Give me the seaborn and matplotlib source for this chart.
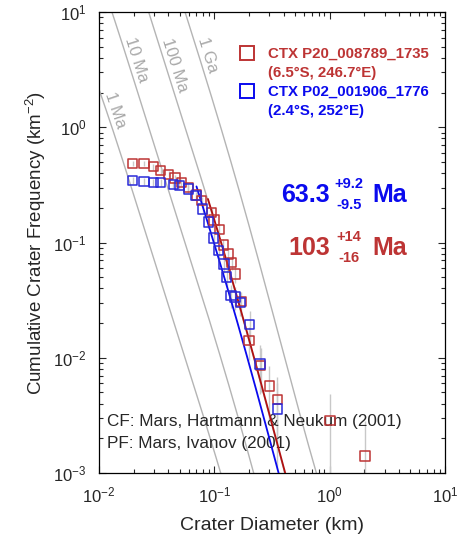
import numpy as np
import pandas as pd
import matplotlib
matplotlib.use("Agg")
import matplotlib.pyplot as plt
from matplotlib.lines import Line2D
import seaborn as sns

# crater counts: diameter (km), cumulative frequency (km^-2), error
red_name = "CTX P20_008789_1735"
red_coords = "(6.5°S, 246.7°E)"
red_diam = [0.0196, 0.0246, 0.0296, 0.0343, 0.0402, 0.0456, 0.0517, 0.0595, 0.0703, 0.0778,
            0.0949, 0.0994, 0.1105, 0.1197, 0.1322, 0.1416, 0.1513, 0.1705, 0.200, 0.2526,
            0.300, 0.352, 1.008, 2.016]
red_freq = [0.487, 0.487, 0.455, 0.421, 0.391, 0.363, 0.333, 0.299, 0.259, 0.231,
            0.182, 0.157, 0.130, 0.0953, 0.0796, 0.0670, 0.0535, 0.0307, 0.0141, 0.00855,
            0.0057, 0.00432, 0.00284, 0.00141]
red_err = [0.0262, 0.0262, 0.0253, 0.0244, 0.0235, 0.0226, 0.0217, 0.0205, 0.0191, 0.0181,
           0.0160, 0.0149, 0.0135, 0.0116, 0.0106, 0.0097, 0.0087, 0.0066, 0.0045, 0.0035,
           0.0028, 0.0025, 0.0020, 0.0014]

blue_name = "CTX P02_001906_1776"
blue_coords = "(2.4°S, 252°E)"
blue_diam = [0.0196, 0.0246, 0.0296, 0.0343, 0.0441, 0.0497, 0.0595, 0.0694, 0.0793, 0.0887,
             0.0988, 0.109, 0.1214, 0.128, 0.1396, 0.1513, 0.168, 0.2023, 0.249, 0.352]
blue_freq = [0.344, 0.337, 0.333, 0.333, 0.320, 0.311, 0.292, 0.255, 0.196, 0.150,
             0.109, 0.0854, 0.0652, 0.0500, 0.0348, 0.0336, 0.0302, 0.0194, 0.0088, 0.00358]
blue_err = [0.0248, 0.0245, 0.0244, 0.0244, 0.0239, 0.0236, 0.0228, 0.0213, 0.0187, 0.0164,
            0.0140, 0.0123, 0.0108, 0.0094, 0.0079, 0.0077, 0.0073, 0.0059, 0.0040, 0.0025]

# model ages (Ga) from the fits, with errors as printed
fit_ages = [0.103, 0.0633]
fit_dmin = [0.088, 0.07]
age_text = ["103", "63.3"]
age_plus = ["+14", "+9.2"]
age_minus = ["-16", "-9.5"]

# Mars production function, Ivanov (2001): a0..a11
pf_coef = [-3.383677, -3.197453, 1.256814, 0.7915294, -0.4860814, -0.3630098,
           0.1015660, 0.06755517, -0.01180639, -0.004753049, 0.0006232848, 0.00005805497]
# Mars chronology function, Hartmann & Neukum (2001)
cf_coef = [2.68e-14, 6.93, 4.13e-4]

iso_ages = [0.001, 0.01, 0.1, 1.0]
iso_labels = ["1 Ma", "10 Ma", "100 Ma", "1 Ga"]
iso_label_freq = [1.41, 3.83, 3.47, 4.24]

RED = "#bd3434"
RED_LINE = "#b01010"
BLUE = "#0a0aee"
BLUE_MK = "#2a2ad8"
GRAY = "#b4b4b4"


def n1(t):
    return cf_coef[0] * (np.exp(cf_coef[1] * t) - 1) + cf_coef[2] * t


def isochron(d, t):
    x = np.log10(d)
    shape = sum(a * x ** i for i, a in enumerate(pf_coef[1:], start=1))
    return 10 ** shape * n1(t)


sns.set_style("ticks")
plt.rcParams["font.family"] = ["Liberation Sans", "DejaVu Sans"]
plt.rcParams["mathtext.fontset"] = "custom"
plt.rcParams["mathtext.rm"] = "Liberation Sans"
plt.rcParams["mathtext.it"] = "Liberation Sans:italic"
plt.rcParams["mathtext.bf"] = "Liberation Sans:bold"

fig = plt.figure(figsize=(4.58, 5.38), dpi=100)
fig.patch.set_facecolor("white")
ax = fig.add_axes([0.2162, 0.1208, 0.7555, 0.8569])
ax.set_xscale("log", nonpositive="clip")
ax.set_yscale("log", nonpositive="clip")

# isochrons
d_grid = np.logspace(-2, 1, 600)
iso_df = pd.concat([pd.DataFrame({"D": d_grid, "N": isochron(d_grid, t), "age": lab})
                    for t, lab in zip(iso_ages, iso_labels)])
sns.lineplot(data=iso_df, x="D", y="N", units="age", estimator=None, color=GRAY,
             lw=1.0, ax=ax, legend=False, zorder=1)

for t, lab, nf in zip(iso_ages, iso_labels, iso_label_freq):
    n = isochron(d_grid, t)
    ln = np.log10(n)
    d_at = 10 ** np.interp(np.log10(nf), ln[::-1], np.log10(d_grid)[::-1])
    slope = np.interp(np.log10(nf), ln[::-1], np.gradient(ln, np.log10(d_grid))[::-1])
    ax.annotate(lab, xy=(d_at, nf), xytext=(6.5, 0), textcoords="offset points",
                rotation=np.degrees(np.arctan(slope)), rotation_mode="anchor",
                ha="center", va="center", color="#a8a8a8", fontsize=12)

# error bars
ax.vlines(red_diam, np.array(red_freq) - np.array(red_err), np.array(red_freq) + np.array(red_err),
          color="#c8c8c8", lw=1.0, zorder=2)
ax.vlines(blue_diam, np.array(blue_freq) - np.array(blue_err), np.array(blue_freq) + np.array(blue_err),
          color="#c8c8c8", lw=1.0, zorder=2)

# fitted isochrons
fit_df = pd.concat([pd.DataFrame({"D": np.logspace(np.log10(dm), 0, 200),
                                  "N": isochron(np.logspace(np.log10(dm), 0, 200), t),
                                  "sample": s})
                    for t, dm, s in zip(fit_ages, fit_dmin, [red_name, blue_name])])
sns.lineplot(data=fit_df, x="D", y="N", hue="sample", estimator=None,
             palette={red_name: RED_LINE, blue_name: BLUE}, lw=1.3, ax=ax, legend=False, zorder=4)

# data points
sns.scatterplot(x=red_diam, y=red_freq, marker="s", s=46, facecolor="none", edgecolor=RED,
                linewidth=1.1, ax=ax, zorder=5)
sns.scatterplot(x=blue_diam, y=blue_freq, marker="s", s=46, facecolor="none", edgecolor=BLUE_MK,
                linewidth=1.1, ax=ax, zorder=5)

ax.set_xlim(0.01, 10)
ax.set_ylim(0.001, 10)
ax.set_xlabel("Crater Diameter (km)", fontsize=14, labelpad=8)
ax.set_ylabel("Cumulative Crater Frequency (km$^{-2}$)", fontsize=13.5, labelpad=4)
ax.tick_params(which="both", direction="in", top=True, right=True, labelsize=12, width=0.8)
ax.tick_params(which="major", length=5, pad=9)
ax.tick_params(which="minor", length=2.8)
for sp in ax.spines.values():
    sp.set_linewidth(0.9)
    sp.set_color("black")

# legend
handles = [Line2D([], [], ls="none", marker="s", ms=9.5, mfc="none", mec=RED, mew=1.4),
           Line2D([], [], ls="none", marker="s", ms=9.5, mfc="none", mec=BLUE, mew=1.4)]
leg = ax.legend(handles, [red_name, blue_name], loc="upper left", bbox_to_anchor=(0.405, 0.924),
                frameon=False, borderpad=0, borderaxespad=0, handlelength=1.0, handletextpad=0.9,
                labelspacing=1.6, prop={"weight": "bold", "size": 10.8},
                labelcolor=[RED, BLUE])
for txt, sub, c in zip(leg.get_texts(), [red_coords, blue_coords], [RED, BLUE]):
    ax.annotate(sub, xy=(0, 0), xycoords=txt, xytext=(0, -3.5), textcoords="offset points",
                ha="left", va="top", color=c, fontsize=10.8, fontweight="bold", zorder=10)

# model ages
for y, txt, p, m, c in zip([0.473, 0.588], age_text, age_plus, age_minus, [RED, BLUE]):
    ax.text(0.668, y, txt, transform=ax.transAxes, ha="right", va="baseline",
            fontsize=18, fontweight="bold", color=c)
    ax.annotate(p, xy=(0.668, y), xycoords="axes fraction", xytext=(13.3, 10), textcoords="offset points",
                ha="center", va="baseline", fontsize=10.5, fontweight="bold", color=c)
    ax.annotate(m, xy=(0.668, y), xycoords="axes fraction", xytext=(13.3, -5), textcoords="offset points",
                ha="center", va="baseline", fontsize=10.5, fontweight="bold", color=c)
    ax.annotate("Ma", xy=(0.668, y), xycoords="axes fraction", xytext=(30.5, 0), textcoords="offset points",
                ha="left", va="baseline", fontsize=18, fontweight="bold", color=c)

ax.text(0.023, 0.102, "CF: Mars, Hartmann & Neukum (2001)", transform=ax.transAxes,
        ha="left", va="baseline", fontsize=12.3)
ax.text(0.023, 0.054, "PF: Mars, Ivanov (2001)", transform=ax.transAxes,
        ha="left", va="baseline", fontsize=12.3)

fig.savefig("out.png", dpi=100, facecolor="white")
